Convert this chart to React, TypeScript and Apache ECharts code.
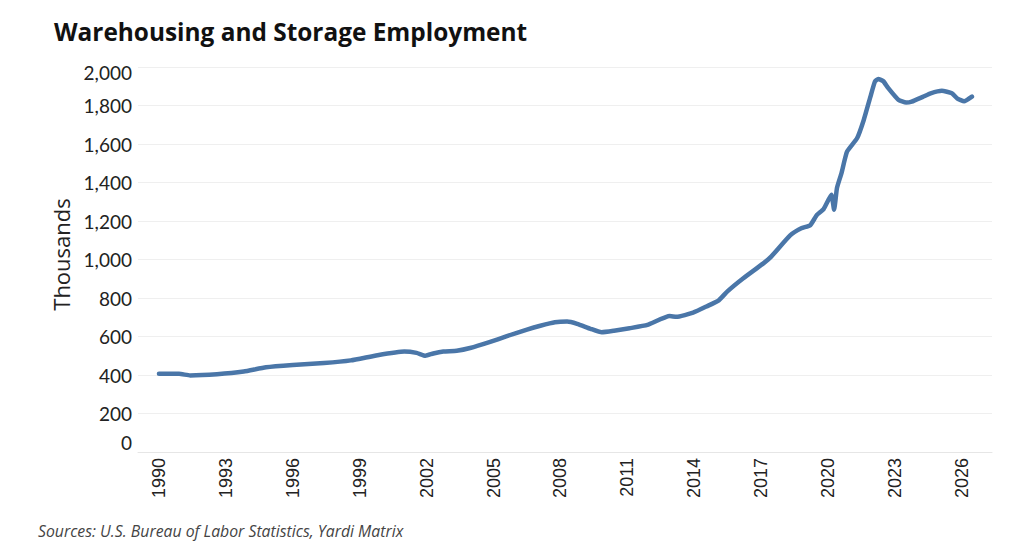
import React, { useEffect, useRef } from "react";
import * as echarts from "echarts";

// Readings of warehousing & storage employment (thousands) by decimal year
const dates: number[] = [
  1990.0, 1990.9, 1991.4, 1992.6, 1993.8, 1994.8, 1996.0, 1997.4, 1998.6, 1999.8,
  2001.0, 2001.55, 2001.95, 2002.3, 2002.75, 2003.35, 2003.95, 2004.85, 2005.6, 2006.5,
  2007.1, 2007.75, 2008.3, 2008.75, 2009.35, 2009.85, 2010.4, 2011.1, 2011.9, 2012.9,
  2013.2, 2013.95, 2014.55, 2015.1, 2015.5, 2016.2, 2017.1, 2017.45, 2018.3, 2018.8,
  2019.2, 2019.5, 2019.8, 2020.15, 2020.27, 2020.4, 2020.6, 2020.85, 2021.3, 2021.6,
  2021.9, 2022.1, 2022.25, 2022.48, 2022.7, 2023.15, 2023.5, 2023.75, 2024.25, 2024.6,
  2025.1, 2025.55, 2025.8, 2026.1, 2026.45,
];

const employment: number[] = [
  406, 406, 398, 404, 418, 440, 452, 462, 476, 503,
  522, 515, 500, 512, 522, 526, 540, 572, 602, 636,
  656, 674, 678, 666, 640, 622, 630, 643, 660, 706,
  702, 724, 756, 788, 836, 903, 980, 1015, 1125, 1162,
  1178, 1232, 1262, 1336, 1258, 1372, 1448, 1560, 1630, 1725,
  1846, 1924, 1938, 1926, 1890, 1830, 1815, 1820, 1845, 1863,
  1876, 1864, 1836, 1822, 1846,
];

const yearTicks: number[] = [1990, 1993, 1996, 1999, 2002, 2005, 2008, 2011, 2014, 2017, 2020, 2023, 2026];

const TITLE = "Warehousing and Storage Employment";
const SOURCE = "Sources: U.S. Bureau of Labor Statistics, Yardi Matrix";
const Y_NAME = "Thousands";

export default function App() {
  const ref = useRef<HTMLDivElement>(null);

  useEffect(() => {
    if (!ref.current) return;
    const chart = echarts.init(ref.current, null, { renderer: "svg" });
    const labelFont = "Lato, 'Noto Sans', sans-serif";
    const wideFont = "'Open Sans', 'Noto Sans', sans-serif";
    const tickStyle = { fontFamily: labelFont, fontSize: 19, color: "#222222" };

    chart.setOption({
      animation: false,
      backgroundColor: "#ffffff",
      title: {
        text: TITLE,
        left: 41,
        top: 6,
        textStyle: {
          fontFamily: wideFont,
          fontWeight: 700,
          fontSize: 24.4,
          color: "#111111",
        },
      },
      graphic: [
        {
          type: "text",
          left: 30,
          top: 515,
          style: {
            text: SOURCE,
            fontFamily: wideFont,
            fontStyle: "italic",
            fontSize: 15.8,
            fill: "#444444",
          },
        },
      ],
      grid: {
        left: 130,
        right: 24,
        top: 59,
        bottom: 95,
        containLabel: false,
        outerBoundsMode: "none",
      },
      xAxis: {
        type: "value",
        min: 1989.06,
        max: 2027.35,
        splitLine: { show: false },
        axisTick: { show: false },
        axisLine: { show: true, lineStyle: { color: "#e6e6e6", width: 1 } },
        axisLabel: {
          customValues: yearTicks,
          rotate: 90,
          margin: 6,
          fontFamily: "'Liberation Sans', Arial, sans-serif",
          fontSize: 18,
          color: "#222222",
          formatter: (v: number) => String(Math.round(v)),
        },
      },
      yAxis: {
        type: "value",
        min: 0,
        max: 2000,
        interval: 200,
        name: Y_NAME,
        nameLocation: "middle",
        nameGap: 66,
        nameTextStyle: {
          fontFamily: wideFont,
          fontSize: 22,
          color: "#222222",
          padding: [0, 0, 0, 10],
        },
        axisLine: { show: false },
        axisTick: { show: false },
        splitLine: { show: true, lineStyle: { color: "#efefef", width: 1 } },
        axisLabel: {
          margin: 6,
          ...tickStyle,
          verticalAlignMinLabel: "bottom",
          formatter: (v: number) =>
            v === 2000 ? "{h|\u00a0}\n{z|2,000}" : v.toLocaleString("en-US"),
          rich: {
            z: { ...tickStyle, lineHeight: 23 },
            h: { ...tickStyle, height: 10, lineHeight: 10 },
          },
        },
      },
      series: [
        {
          type: "line",
          data: dates.map((d, i) => [d, employment[i]]),
          showSymbol: false,
          smooth: 0.15,
          lineStyle: { color: "#4a76a8", width: 4.5, cap: "round", join: "round" },
          itemStyle: { color: "#4a76a8" },
        },
      ],
    });

    return () => chart.dispose();
  }, []);

  return <div ref={ref} style={{ width: 1008, height: 539 }} />;
}
